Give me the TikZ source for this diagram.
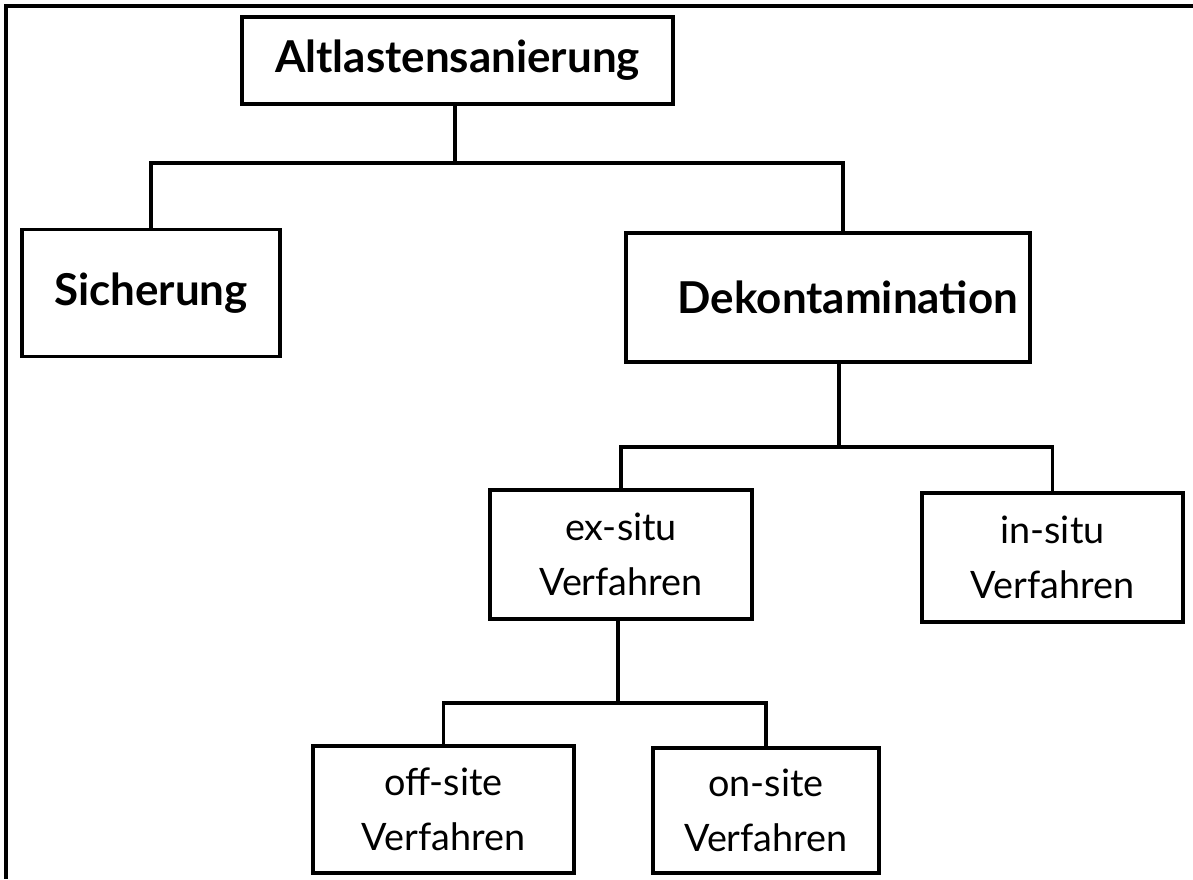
\documentclass[tikz,border=0pt]{standalone}
\usepackage{fontspec}
\setmainfont{Lato}
\usetikzlibrary{calc}
\begin{document}
\begin{tikzpicture}[x=0.02cm,y=-0.02cm,
  box/.style={draw=black,line width=2.2pt,inner sep=0pt,outer sep=0pt,align=center},
  headbox/.style={box,font=\bfseries\fontsize{25}{30}\selectfont},
  subbox/.style={box,font=\fontsize{21.5}{31.2}\selectfont},
  conn/.style={draw=black,line width=1.8pt}]
\useasboundingbox (0,0) rectangle (1193,879);
% page frame
\draw[line width=1.8pt] (1193,6) -- (6,6) -- (6,879);

% boxes
\node[headbox,minimum width={431*0.02cm},minimum height={87*0.02cm}] (alt) at (457.5,60.5) {Altlastensanierung};
\node[headbox,minimum width={258*0.02cm},minimum height={127*0.02cm}] (sich) at (151,293) {Sicherung};
\node[headbox,minimum width={404*0.02cm},minimum height={129*0.02cm},
      text width={380*0.02cm},align=right] (dek) at (828,297.5) {Dekontamination};
\node[subbox,minimum width={262*0.02cm},minimum height={129*0.02cm}] (ex) at (621,554.5) {ex-situ\\Verfahren};
\node[subbox,minimum width={261*0.02cm},minimum height={129*0.02cm}] (in) at (1052.5,557.5) {in-situ\\Verfahren};
\node[subbox,minimum width={261*0.02cm},minimum height={127*0.02cm}] (off) at (443.5,809.5) {off-site\\Verfahren};
\node[subbox,minimum width={226*0.02cm},minimum height={125*0.02cm}] (on) at (766,810.5) {on-site\\Verfahren};

% junction points of the tree
\coordinate (j1) at (455,163);
\coordinate (d1) at (843,163);
\coordinate (j2) at (839,447);
\coordinate (j3) at (618,703);

% connectors
\draw[conn] (alt.south -| j1) -- (j1);
\draw[conn] (sich.north) |- (d1) -- (d1 |- dek.north);
\draw[conn] (dek.south -| j2) -- (j2);
\draw[conn] (ex.north) |- (j2) -| (in.north);
\draw[conn] (ex.south -| j3) -- (j3);
\draw[conn] (off.north) |- (j3) -| (on.north);
\end{tikzpicture}
\end{document}
